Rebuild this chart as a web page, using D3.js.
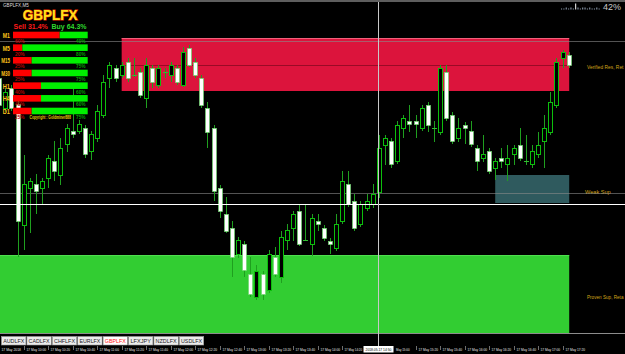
<!DOCTYPE html>
<html>
<head>
<meta charset="utf-8">
<script src="https://cdn.jsdelivr.net/npm/d3@7"></script>
<style>
html, body { margin: 0; padding: 0; background: #000; overflow: hidden; }
svg { display: block; }
text { font-family: "Liberation Sans", Arial, sans-serif; }
</style>
</head>
<body>
<svg id="chart" width="625" height="354"></svg>
<script>
// GBPLFX M5 candles, 17 May 2018
const open = [1.3922,1.3892,1.3912,1.3896,1.3775,1.3812,1.3816,1.3812,1.3822,1.3839,
  1.3825,1.3856,1.3869,1.3869,1.3872,1.3849,1.3862,1.3885,1.3922,1.3932,
  1.3925,1.3938,1.3925,1.3928,1.3902,1.3932,1.3915,1.3928,1.3925,1.3932,
  1.3915,1.3952,1.3938,1.3922,1.3892,1.3872,1.3812,1.3786,1.3772,1.3746,
  1.3756,1.3726,1.3703,1.3726,1.3710,1.3743,1.3723,1.3760,1.3772,1.3789,
  1.3760,1.3756,1.3779,1.3772,1.3759,1.3752,1.3779,1.3816,1.3799,1.3776,
  1.3792,1.3796,1.3808,1.3855,1.3859,1.3839,1.3872,1.3879,1.3879,1.3872,
  1.3895,1.3872,1.3868,1.3928,1.3885,1.3862,1.3875,1.3869,1.3852,1.3842,
  1.3849,1.3832,1.3842,1.3836,1.3846,1.3855,1.3839,1.3836,1.3846,1.3859,
  1.3868,1.3895,1.3942,1.3945];
const high = [1.3926,1.3912,1.3915,1.3900,1.3845,1.3822,1.3826,1.3822,1.3845,1.3859,
  1.3862,1.3876,1.3912,1.3880,1.3875,1.3869,1.3895,1.3925,1.3938,1.3935,
  1.3938,1.3942,1.3942,1.3932,1.3942,1.3935,1.3935,1.3932,1.3938,1.3935,
  1.3953,1.3955,1.3942,1.3925,1.3898,1.3875,1.3815,1.3803,1.3779,1.3763,
  1.3759,1.3743,1.3735,1.3729,1.3750,1.3753,1.3769,1.3776,1.3789,1.3796,
  1.3796,1.3786,1.3786,1.3775,1.3762,1.3786,1.3829,1.3829,1.3806,1.3799,
  1.3806,1.3816,1.3865,1.3865,1.3862,1.3879,1.3885,1.3895,1.3885,1.3895,
  1.3898,1.3879,1.3935,1.3935,1.3888,1.3882,1.3878,1.3879,1.3855,1.3865,
  1.3852,1.3842,1.3852,1.3855,1.3855,1.3872,1.3865,1.3855,1.3868,1.3885,
  1.3908,1.3942,1.3950,1.3948];
const low = [1.3892,1.3888,1.3889,1.3743,1.3750,1.3767,1.3786,1.3796,1.3812,1.3819,
  1.3815,1.3848,1.3862,1.3866,1.3842,1.3840,1.3858,1.3882,1.3912,1.3918,
  1.3922,1.3918,1.3923,1.3902,1.3892,1.3912,1.3912,1.3922,1.3918,1.3915,
  1.3913,1.3933,1.3922,1.3892,1.3852,1.3799,1.3782,1.3767,1.3723,1.3742,
  1.3723,1.3703,1.3700,1.3700,1.3707,1.3723,1.3717,1.3750,1.3759,1.3754,
  1.3759,1.3744,1.3769,1.3759,1.3746,1.3749,1.3776,1.3793,1.3769,1.3773,
  1.3789,1.3792,1.3802,1.3835,1.3832,1.3836,1.3862,1.3868,1.3862,1.3869,
  1.3868,1.3858,1.3865,1.3879,1.3856,1.3858,1.3856,1.3853,1.3829,1.3838,
  1.3826,1.3820,1.3832,1.3819,1.3835,1.3839,1.3835,1.3832,1.3842,1.3832,
  1.3865,1.3892,1.3932,1.3932];
const close = [1.3895,1.3908,1.3892,1.3779,1.3816,1.3819,1.3809,1.3819,1.3842,1.3829,
  1.3852,1.3872,1.3866,1.3876,1.3846,1.3866,1.3889,1.3918,1.3935,1.3922,
  1.3935,1.3922,1.3925,1.3905,1.3935,1.3918,1.3932,1.3928,1.3935,1.3918,
  1.3948,1.3935,1.3925,1.3895,1.3868,1.3809,1.3789,1.3769,1.3743,1.3760,
  1.3730,1.3706,1.3729,1.3706,1.3746,1.3726,1.3763,1.3770,1.3786,1.3756,
  1.3760,1.3782,1.3776,1.3762,1.3756,1.3776,1.3819,1.3796,1.3772,1.3796,
  1.3799,1.3806,1.3852,1.3862,1.3836,1.3875,1.3882,1.3876,1.3876,1.3892,
  1.3875,1.3872,1.3932,1.3882,1.3859,1.3872,1.3872,1.3856,1.3839,1.3846,
  1.3829,1.3839,1.3839,1.3842,1.3852,1.3842,1.3839,1.3849,1.3855,1.3872,
  1.3898,1.3938,1.3948,1.3935];

// supply / demand zones (labels as far as they show before the window edge)
const zoneLabels = ["Verified Res, Ret", "Weak Sup", "Proven Sup, Reta"];
const zoneTop    = [1.3962, 1.3825, 1.3745];
const zoneBottom = [1.3909, 1.3797, 1.3667];
const zoneStart  = [20, 81, 0];
const zoneColors = ["#dc143c", "#2f5a5e", "#32cd32"];
const resMidLine = 1.3935;

// horizontal lines and crosshair
const greyLevels = [1.3959, 1.3807];
const crossPrice = 1.37955;
const crossBar = 62;
const crossLabel = "2018.05.17 14:50";

// time axis, one label every 4 bars (label 15 sits under the crosshair box,
// label 16 only shows its tail)
const timeLabels = ["17 May 2018","17 May 10:00","17 May 10:20","17 May 10:40","17 May 11:00",
  "17 May 11:20","17 May 11:40","17 May 12:00","17 May 12:20","17 May 12:40","17 May 13:00",
  "17 May 13:20","17 May 13:40","17 May 14:00","17 May 14:20","","May 15:00",
  "17 May 15:20","17 May 15:40","17 May 16:00","17 May 16:20","17 May 16:40","17 May 17:00","17 May 17:20"];

const tabs = ["AUDLFX","CADLFX","CHFLFX","EURLFX","GBPLFX","LFXJPY","NZDLFX","USDLFX"];
const activeTab = "GBPLFX";

// strength panel
const timeframes = ["M1","M5","M15","M30","H1","H4","D1"];
const sellBar = [62.5, 12.5, 25, 25, 37.5, 37.5, 25];
const sellText = ["60%","20%","25%","25%","40%","40%","25%"];
const buyText = ["40%","80%","75%","75%","60%","60%","75%"];
const sellTotal = "Sell 31.4%";
const buyTotal = "Buy 64.3%";

const meter = [1,1,2,1,2,1,6,2,1,2,2,1,2,1,1,2,1];
const meterPct = "42%";

const svg = d3.select("#chart");
const W = 625;

// squeeze a text horizontally (about its x) so it is no wider than w
function fit(t, w) {
  let n = t.node().getComputedTextLength();
  if (n > w) {
    let x0 = +t.attr("x");
    t.attr("transform", "translate(" + x0 + ",0) scale(" + (w / n) + ",1) translate(" + (-x0) + ",0)");
  }
  return t;
}

const x = d3.scaleLinear().domain([0, open.length - 1]).range([-0.8, 568.7]);
const y = d3.scaleLinear().domain([1.3646, 1.4000]).range([354, 0]);
const chartRight = x(open.length - 1) + 0.5;

// zones (background objects)
const zones = svg.append("g");
zoneLabels.forEach(function(lbl, i) {
  let x0 = Math.max(0, x(zoneStart[i]));
  zones.append("rect")
    .attr("x", x0).attr("y", y(zoneTop[i]))
    .attr("width", chartRight - x0)
    .attr("height", y(zoneBottom[i]) - y(zoneTop[i]))
    .attr("fill", zoneColors[i]);
  let t = zones.append("text")
    .attr("x", i == 1 ? 585 : 587).attr("y", (y(zoneTop[i]) + y(zoneBottom[i])) / 2 + 5)
    .attr("font-size", 5.6).attr("fill", "#d2a519")
    .text(lbl);
  fit(t, 36.5);
});
// light top edge on red and green zones
zones.append("line").attr("x1", x(zoneStart[0])).attr("x2", chartRight)
  .attr("y1", y(zoneTop[0]) + 0.5).attr("y2", y(zoneTop[0]) + 0.5)
  .attr("stroke", "#f0607a");
zones.append("line").attr("x1", 0).attr("x2", chartRight)
  .attr("y1", y(zoneTop[2]) + 0.5).attr("y2", y(zoneTop[2]) + 0.5)
  .attr("stroke", "#4ee04e");
zones.append("line").attr("x1", x(zoneStart[0])).attr("x2", chartRight)
  .attr("y1", Math.round(y(resMidLine)) + 0.5).attr("y2", Math.round(y(resMidLine)) + 0.5)
  .attr("stroke", "#9a0a26");

svg.append("g").selectAll("line").data(greyLevels).enter().append("line")
  .attr("x1", 0).attr("x2", W)
  .attr("y1", d => Math.round(y(d)) + 0.5).attr("y2", d => Math.round(y(d)) + 0.5)
  .attr("stroke", "#8a8a8a").attr("stroke-opacity", 0.6);

// candles
const candles = svg.append("g");
const bars = d3.range(open.length);
candles.selectAll("line").data(bars).enter().append("line")
  .attr("x1", i => Math.round(x(i)) + 0.5).attr("x2", i => Math.round(x(i)) + 0.5)
  .attr("y1", i => y(high[i])).attr("y2", i => y(low[i]))
  .attr("stroke", "#1f9f1f");
candles.selectAll("rect").data(bars.filter(i => open[i] != close[i])).enter().append("rect")
  .attr("x", i => Math.round(x(i)) - 1.5)
  .attr("y", i => Math.round(y(Math.max(open[i], close[i]))) + 0.5)
  .attr("width", 4)
  .attr("height", i => Math.abs(y(open[i]) - y(close[i])))
  .attr("fill", i => close[i] > open[i] ? "#000" : "#fff")
  .attr("stroke", i => close[i] > open[i] ? "#0cbf0c" : "#6fd86f")
  .attr("stroke-width", i => close[i] > open[i] ? 1 : 0.7);
candles.selectAll("line.doji").data(bars.filter(i => open[i] == close[i])).enter().append("line")
  .attr("class", "doji")
  .attr("x1", i => Math.round(x(i)) - 2).attr("x2", i => Math.round(x(i)) + 3)
  .attr("y1", i => Math.round(y(open[i])) + 0.5).attr("y2", i => Math.round(y(open[i])) + 0.5)
  .attr("stroke", "#2fbf2f");

// chart bottom border
svg.append("line").attr("x1", 0).attr("x2", W).attr("y1", 333.5).attr("y2", 333.5)
  .attr("stroke", "#8c8c8c");

// crosshair
svg.append("line").attr("x1", 0).attr("x2", W)
  .attr("y1", Math.round(y(crossPrice)) + 0.5).attr("y2", Math.round(y(crossPrice)) + 0.5)
  .attr("stroke", "#fff");
let cx = Math.round(x(crossBar)) - 0.5;
svg.append("line").attr("x1", cx).attr("x2", cx).attr("y1", 2).attr("y2", 346)
  .attr("stroke", "#c8c8c8");

// tabs
const tabG = svg.append("g");
tabs.forEach(function(t, i) {
  let tx = 1.5 + i * 25.4;
  tabG.append("rect").attr("x", tx).attr("y", 336.5).attr("width", 24.4).attr("height", 8.5)
    .attr("fill", t == activeTab ? "#ffffff" : "#ececec").attr("stroke", "#9c9c9c").attr("stroke-width", 0.6);
  let tt = tabG.append("text").attr("x", tx + 12.2).attr("y", 343).attr("text-anchor", "middle")
    .attr("font-size", 5.6).attr("fill", t == activeTab ? "#ff1010" : "#222")
    .text(t);
  fit(tt, 21);
});

// time axis
const axisG = svg.append("g");
let boxL = cx - 15, boxR = cx + 15;
timeLabels.forEach(function(t, k) {
  let bx = Math.round(x(k * 4)) + 0.5;
  if (bx < boxR + 4 && bx > boxL - 12) {
    // under or right next to the crosshair box: only the visible tail
    if (t) fit(axisG.append("text").attr("x", boxR + 2.5).attr("y", 350.8)
      .attr("font-size", 4.4).attr("fill", "#e8e8e8").text(t), 13.5);
    return;
  }
  axisG.append("line").attr("x1", bx).attr("x2", bx).attr("y1", 346).attr("y2", 350)
    .attr("stroke", "#bbb").attr("stroke-width", 0.6);
  let tt = axisG.append("text").attr("x", bx + 2).attr("y", 350.8)
    .attr("font-size", 4.4).attr("fill", "#e8e8e8")
    .text(t);
  fit(tt, Math.min(19.5, boxL - bx - 3.5 > 0 && bx < boxL ? boxL - bx - 3.5 : 19.5));
});
axisG.append("rect").attr("x", boxL).attr("y", 346).attr("width", 30).attr("height", 6.5)
  .attr("fill", "#fff");
fit(axisG.append("text").attr("x", cx).attr("y", 351).attr("text-anchor", "middle")
  .attr("font-size", 4.4).attr("fill", "#000").text(crossLabel), 26);

// title bar
svg.append("rect").attr("x", 0).attr("y", 0).attr("width", W).attr("height", 2).attr("fill", "#5e5e5e");
svg.append("text").attr("x", 3).attr("y", 6.5).attr("font-size", 4.6).attr("fill", "#ddd").text("GBPLFX,M5");

// top right meter
const meterG = svg.append("g");
meter.forEach(function(h, i) {
  meterG.append("rect").attr("x", 561 + i * 2.35).attr("y", 9.5 - h).attr("width", 1.1).attr("height", h)
    .attr("fill", h > 4 ? "#e6e6e6" : "#8e9cae");
});
svg.append("text").attr("x", 603).attr("y", 10).attr("font-size", 9).attr("fill", "#c8c8c8").text(meterPct);

// strength panel
const panel = svg.append("g");
fit(panel.append("text").attr("x", 22.7).attr("y", 20).attr("font-size", 14.5).attr("font-weight", "bold")
  .attr("fill", "#ffe21a").attr("stroke", "#e62a00").attr("stroke-width", 1.1)
  .attr("paint-order", "stroke").text("GBPLFX"), 55);
panel.append("text").attr("x", 13.5).attr("y", 28.8).attr("font-size", 7).attr("font-weight", "bold")
  .attr("fill", "#ff1a1a").text(sellTotal);
panel.append("text").attr("x", 51.5).attr("y", 28.8).attr("font-size", 7).attr("font-weight", "bold")
  .attr("fill", "#2ed82e").text(buyTotal);

const row = d3.scalePoint().domain(timeframes).range([31.7, 107.7]);
const pct = d3.scaleLinear().domain([0, 100]).range([13, 87.7]);
timeframes.forEach(function(tf, i) {
  let ry = row(tf);
  panel.append("rect").attr("x", pct(0)).attr("y", ry).attr("width", pct(sellBar[i]) - pct(0)).attr("height", 6.6)
    .attr("fill", "#ff0000");
  panel.append("rect").attr("x", pct(sellBar[i])).attr("y", ry).attr("width", pct(100) - pct(sellBar[i])).attr("height", 6.6)
    .attr("fill", "#00f000");
  let lx = tf.length > 2 ? 1.2 : 2.8;
  fit(panel.append("text").attr("x", lx).attr("y", ry + 6.2)
    .attr("font-size", 6.4).attr("font-weight", "bold").attr("fill", "#ffc21a").text(tf), 10 - lx);
  panel.append("text").attr("x", 15).attr("y", ry + 11.3).attr("font-size", 4.8).attr("font-weight", "bold")
    .attr("fill", "#b80000").text(sellText[i]);
  panel.append("text").attr("x", 76).attr("y", ry + 11.3).attr("font-size", 4.8).attr("font-weight", "bold")
    .attr("fill", "#00a000").text(buyText[i]);
});
fit(panel.append("text").attr("x", 29.5).attr("y", row("D1") + 11.3).attr("font-size", 4.6).attr("font-weight", "bold")
  .attr("fill", "#e8c800").text("Copyright : Goldminer888"), 41.5);
</script>
</body>
</html>
